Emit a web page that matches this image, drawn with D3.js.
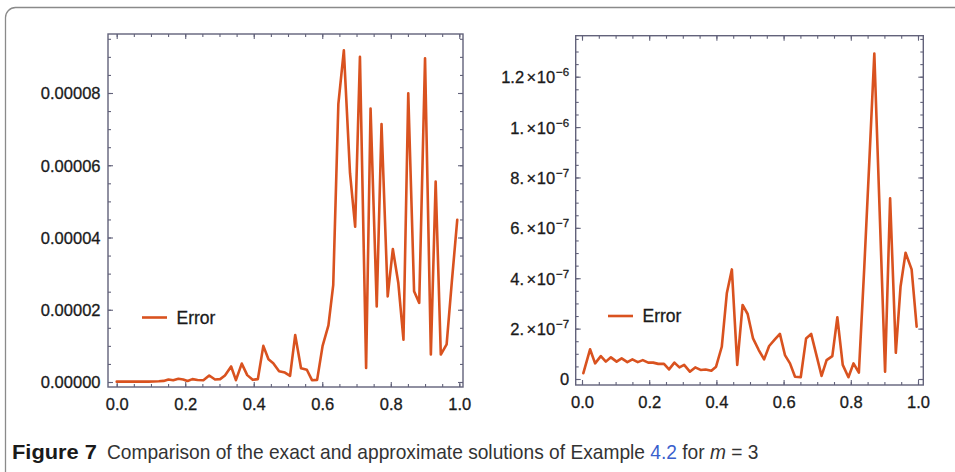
<!DOCTYPE html>
<html><head><meta charset="utf-8">
<script src="https://cdn.jsdelivr.net/npm/d3@7"></script>
<style>html,body{margin:0;padding:0;background:#fff;overflow:hidden}</style>
</head><body><svg id="c" width="955" height="472" xmlns="http://www.w3.org/2000/svg"></svg>
<script>
// ---------- data ----------
const xTicks = [0, 0.2, 0.4, 0.6, 0.8, 1.0];
const leftYTicks = [0, 0.00002, 0.00004, 0.00006, 0.00008];
const rightYTicks = [0, 2e-7, 4e-7, 6e-7, 8e-7, 1e-6, 1.2e-6];
const rightYMantissa = ["0", "2.", "4.", "6.", "8.", "1.", "1.2"];
const rightYExponent = ["", "−7", "−7", "−7", "−7", "−6", "−6"];
const seriesName = "Error";

const leftX = [0.000,0.016,0.031,0.047,0.062,0.078,0.093,0.108,0.123,0.137,
  0.151,0.165,0.180,0.194,0.207,0.221,0.236,0.253,0.270,0.287,
  0.302,0.316,0.334,0.348,0.365,0.381,0.397,0.412,0.428,0.443,
  0.457,0.474,0.491,0.506,0.521,0.538,0.555,0.570,0.585,0.601,
  0.618,0.632,0.647,0.663,0.681,0.696,0.710,0.728,0.741,0.759,
  0.773,0.791,0.806,0.822,0.837,0.851,0.868,0.883,0.900,0.917,
  0.931,0.946,0.963,0.978,0.994];
const leftErr = [0.1e-6,0.1e-6,0.1e-6,0.1e-6,0.1e-6,0.1e-6,0.1e-6,0.15e-6,0.2e-6,0.3e-6,
  0.7e-6,0.5e-6,0.9e-6,0.7e-6,0.3e-6,0.8e-6,0.55e-6,0.5e-6,1.8e-6,0.7e-6,
  0.8e-6,1.8e-6,4.3e-6,0.5e-6,5.1e-6,1.9e-6,0.6e-6,0.8e-6,10.0e-6,6.3e-6,
  5.2e-6,3.0e-6,2.6e-6,1.7e-6,13.0e-6,3.8e-6,3.4e-6,0.5e-6,0.6e-6,10.0e-6,
  15.7e-6,26.8e-6,77e-6,91.8e-6,57.8e-6,43e-6,90e-6,3.9e-6,75.7e-6,20.9e-6,
  71.4e-6,23.7e-6,36.8e-6,27.4e-6,11.7e-6,79.9e-6,25.1e-6,21.9e-6,89.6e-6,7.6e-6,
  55.5e-6,7.6e-6,10.4e-6,27.5e-6,44.9e-6];

const rightX = [0.004,0.024,0.039,0.056,0.071,0.086,0.103,0.118,0.135,0.150,
  0.166,0.181,0.197,0.212,0.227,0.244,0.259,0.275,0.290,0.304,
  0.321,0.337,0.353,0.368,0.385,0.399,0.416,0.431,0.446,0.462,
  0.478,0.493,0.509,0.526,0.542,0.557,0.574,0.589,0.604,0.619,
  0.634,0.651,0.667,0.682,0.699,0.713,0.728,0.745,0.760,0.776,
  0.793,0.808,0.824,0.840,0.855,0.870,0.886,0.902,0.917,0.934,
  0.948,0.963,0.981,0.996];
const rightErr = [0.23e-7,1.18e-7,0.62e-7,0.91e-7,0.69e-7,0.86e-7,0.69e-7,0.82e-7,0.67e-7,0.78e-7,
  0.67e-7,0.75e-7,0.65e-7,0.65e-7,0.60e-7,0.60e-7,0.38e-7,0.65e-7,0.46e-7,0.56e-7,
  0.29e-7,0.46e-7,0.36e-7,0.38e-7,0.33e-7,0.49e-7,1.28e-7,3.4e-7,4.35e-7,0.56e-7,
  2.94e-7,2.58e-7,1.61e-7,1.15e-7,0.78e-7,1.31e-7,1.57e-7,1.79e-7,0.95e-7,0.62e-7,
  0.09e-7,0.07e-7,1.61e-7,1.79e-7,0.88e-7,0.12e-7,0.75e-7,0.91e-7,2.45e-7,0.56e-7,
  0.07e-7,0.62e-7,0.25e-7,4.4e-7,8.6e-7,12.92e-7,6.6e-7,0.29e-7,7.17e-7,1.04e-7,
  3.66e-7,5.01e-7,4.35e-7,2.08e-7];

const captionLabel = "Figure 7";
const captionParts = [
  {t: "Comparison of the exact and approximate solutions of Example ", c: "#333"},
  {t: "4.2", c: "#3a5fcd"},
  {t: " for ", c: "#333"},
  {t: "m", s: "italic", c: "#333"},
  {t: " = 3", c: "#333"}
];

// ---------- drawing ----------
const svg = d3.select("#c");
const lineColor = "#d9521f";
const frameColor = "#62627a";
const FONT = "'Liberation Sans', Arial, sans-serif";
const TXT = "#1a1a1a";

svg.append("rect").attr("x", 5.5).attr("y", 7.5).attr("width", 1100).attr("height", 600)
  .attr("rx", 10).attr("fill", "none").attr("stroke", "#8a8a8a").attr("stroke-width", 1.3);

function labelStyle(t, size) {
  t.attr("font-family", FONT).attr("font-size", size).attr("fill", TXT)
    .attr("stroke", TXT).attr("stroke-width", 0.3);
}

function panel(cfg) {
  const { fx0, fx1, fy0, fy1, x, y, yTicks, yMinorStep, yMax, xs, ys, leg, yLabel } = cfg;
  const g = svg.append("g");
  const xMinor = d3.range(0, 1.0001, 0.05);
  const yMinor = d3.range(0, yMax, yMinorStep);
  const style = s => {
    s.select(".domain").remove();
    s.selectAll("line").attr("stroke", frameColor).attr("stroke-width", 1.1);
  };
  const add = (axis, tx, ty) => g.append("g").attr("transform", `translate(${tx},${ty})`).call(axis).call(style);

  // minor ticks on all four sides
  add(d3.axisBottom(x).tickValues(xMinor).tickSize(-3).tickFormat(""), 0, fy1);
  add(d3.axisTop(x).tickValues(xMinor).tickSize(-3).tickFormat(""), 0, fy0);
  add(d3.axisLeft(y).tickValues(yMinor).tickSize(-3).tickFormat(""), fx0, 0);
  add(d3.axisRight(y).tickValues(yMinor).tickSize(-3).tickFormat(""), fx1, 0);
  // major ticks
  const bx = add(d3.axisBottom(x).tickValues(xTicks).tickSize(-5).tickFormat(d3.format(".1f")), 0, fy1);
  bx.selectAll("text").attr("y", 23).attr("dy", null).call(t => labelStyle(t, 16.5));
  add(d3.axisTop(x).tickValues(xTicks).tickSize(-5).tickFormat(""), 0, fy0);
  const ly = add(d3.axisLeft(y).tickValues(yTicks).tickSize(-5).tickFormat(""), fx0, 0);
  add(d3.axisRight(y).tickValues(yTicks).tickSize(-5).tickFormat(""), fx1, 0);
  ly.selectAll(".tick").each(function (d, i) {
    const t = d3.select(this).select("text");
    t.attr("x", -cfg.labelGap).attr("dy", "0.36em").attr("text-anchor", "end");
    labelStyle(t, 16.5);
    yLabel(t, d, i);
  });

  // frame
  g.append("rect").attr("x", fx0).attr("y", fy0).attr("width", fx1 - fx0).attr("height", fy1 - fy0)
    .attr("fill", "none").attr("stroke", frameColor).attr("stroke-width", 1.4);

  // line
  const pts = xs.map((v, i) => [v, ys[i]]);
  g.append("path").datum(pts)
    .attr("d", d3.line().x(d => x(d[0])).y(d => y(d[1])))
    .attr("fill", "none").attr("stroke", lineColor).attr("stroke-width", 2.6)
    .attr("stroke-linejoin", "round").attr("stroke-linecap", "round");

  // legend
  g.append("line").attr("x1", leg.x).attr("x2", leg.x + 25).attr("y1", leg.y).attr("y2", leg.y)
    .attr("stroke", lineColor).attr("stroke-width", 2.6);
  const lt = g.append("text").attr("x", leg.x + 34.5).attr("y", leg.y + 6).text(seriesName);
  labelStyle(lt, 17.5);
}

// left panel
panel({
  fx0: 108, fx1: 463, fy0: 34, fy1: 387,
  x: d3.scaleLinear().domain([0, 1]).range([116.7, 459.3]),
  y: d3.scaleLinear().domain([0, 0.00008]).range([382, 93]),
  yTicks: leftYTicks, yMinorStep: 0.000005, yMax: 0.0000962,
  xs: leftX, ys: leftErr,
  leg: { x: 142, y: 317.5 },
  labelGap: 7.5,
  yLabel: (t, d) => t.text(d3.format(".5f")(d))
});

// right panel
panel({
  fx0: 575.7, fx1: 923.3, fy0: 35.7, fy1: 385,
  x: d3.scaleLinear().domain([0, 1]).range([582, 918]),
  y: d3.scaleLinear().domain([0, 1.2e-6]).range([379, 76.7]),
  yTicks: rightYTicks, yMinorStep: 5e-8, yMax: 1.362e-6,
  xs: rightX, ys: rightErr,
  leg: { x: 608, y: 316 },
  labelGap: 6.5,
  yLabel: (t, d, i) => {
    t.text(null);
    t.append("tspan").text(rightYMantissa[i]);
    if (rightYExponent[i]) {
      t.append("tspan").attr("dx", 2.5).text("×");
      t.append("tspan").attr("dx", 0.5).text("10");
      t.append("tspan").attr("font-size", 11.5).attr("dy", "-0.6em").attr("dx", 1).text(rightYExponent[i]);
    }
  }
});

// caption: bold label and body text, each fitted to its measured span
const capFont = "'Liberation Sans Narrow', 'Liberation Sans', Arial, sans-serif";
function fitText(sel, x0, x1, base) {
  const w = sel.node().getBBox().width;
  sel.attr("transform", `translate(${x0},${base}) scale(${(x1 - x0) / w},1)`);
}
const capLabel = svg.append("text").attr("font-family", capFont).attr("font-size", 20)
  .attr("font-weight", "bold").attr("fill", "#1a1a1a").text(captionLabel);
fitText(capLabel, 12, 97, 459);
const cap = svg.append("text").attr("font-family", capFont).attr("font-size", 20)
  .attr("xml:space", "preserve").style("white-space", "pre");
captionParts.forEach(p => {
  const ts = cap.append("tspan").text(p.t).attr("fill", p.c);
  if (p.s) ts.attr("font-style", p.s);
});
fitText(cap, 107, 759, 459);
</script>
</body></html>
